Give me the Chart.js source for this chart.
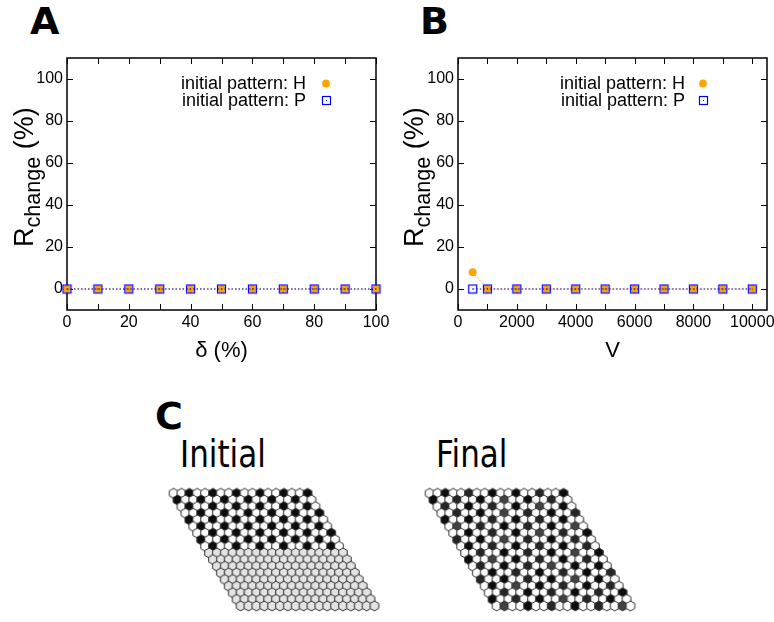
<!DOCTYPE html>
<html>
<head>
<meta charset="utf-8" />
<title>R_change vs delta and V, hexagonal patterns</title>
<script src="https://cdn.jsdelivr.net/npm/chart.js@4.4.1/dist/chart.umd.min.js"></script>
<style>
  html, body { margin: 0; padding: 0; background: #fff; }
  #page { position: relative; width: 774px; height: 622px; overflow: hidden; font-family: "DejaVu Sans", sans-serif; color: #000; }
  .panel { position: absolute; font-weight: bold; font-size: 38px; line-height: 1; }
  .cap { position: absolute; font-size: 31px; line-height: 1; transform: scaleY(1.2); transform-origin: 0 0; }
  canvas { position: absolute; }
</style>
</head>
<body>
<div id="page">
  <div class="panel" style="left:30px; top:2px;">A</div>
  <div class="panel" style="left:420px; top:2px;">B</div>
  <div class="panel" style="left:155px; top:397px;">C</div>
  <div class="cap" style="left:180px; top:436px;">Initial</div>
  <div class="cap" style="left:436px; top:436px;">Final</div>

  <canvas id="chartA" width="390" height="370" style="left:0; top:0;"></canvas>
  <canvas id="chartB" width="384" height="370" style="left:390px; top:0;"></canvas>
  <canvas id="gridInitial" width="230" height="140" style="left:160px; top:480px;"></canvas>
  <canvas id="gridFinal" width="230" height="140" style="left:416px; top:480px;"></canvas>
</div>

<script>
// ---- data: panel A (delta sweep) ----
const deltaVals = [0, 10, 20, 30, 40, 50, 60, 70, 80, 90, 100];
const rDeltaH   = [0, 0, 0, 0, 0, 0, 0, 0, 0, 0, 0];
const rDeltaP   = [0, 0, 0, 0, 0, 0, 0, 0, 0, 0, 0];
const deltaTickLabels = [0, 20, 40, 60, 80, 100];
const deltaTickMarks  = [0, 10, 20, 30, 40, 50, 60, 70, 80, 90, 100];

// ---- data: panel B (V sweep) ----
const vVals = [500, 1000, 2000, 3000, 4000, 5000, 6000, 7000, 8000, 9000, 10000];
const rVH   = [8, 0, 0, 0, 0, 0, 0, 0, 0, 0, 0];
const rVP   = [0, 0, 0, 0, 0, 0, 0, 0, 0, 0, 0];
const vTickLabels = [0, 2000, 4000, 6000, 8000, 10000];
const vTickMarks  = [0, 1000, 2000, 3000, 4000, 5000, 6000, 7000, 8000, 9000, 10000];

const rTickLabels = [0, 20, 40, 60, 80, 100];

// ---- data: panel C (cell states, W white, K black, D/M dark greys, G undetermined) ----
const initialCells = [
  "WWKWWKWWKWWKWWKWWK",
  "KWWKWWKWWKWWKWWKWW",
  "WKWWKWWKWWKWWKWWKW",
  "WWKWWKWWKWWKWWKWWK",
  "KWWKWWKWWKWWKWWKWW",
  "WKWWKWWKWWKWWKWWKW",
  "WWKWWKWWKWWKWWKWWK",
  "KWWKWWKWWKWWKWWKWW",
  "WKWWKWWKWWKWWKWWKW",
  "GGGGGGGGGGGGGGGGGG",
  "GGGGGGGGGGGGGGGGGG",
  "GGGGGGGGGGGGGGGGGG",
  "GGGGGGGGGGGGGGGGGG",
  "GGGGGGGGGGGGGGGGGG",
  "GGGGGGGGGGGGGGGGGG",
  "GGGGGGGGGGGGGGGGGG",
  "GGGGGGGGGGGGGGGGGG",
  "GGGGGGGGGGGGGGGGGG"
];
const finalCells = [
  "WWKWWDWWKWWKWWDWWK",
  "KWWDWWKWWMWWKWWDWW",
  "WDWWKWWDWWKWWMWWKW",
  "WWDWWKWWMWWDWWKWWD",
  "KWWKWWDWWKWWDWWKWW",
  "WMWWDWWKWWDWWKWWMW",
  "WWKWWDWWKWWMWWDWWK",
  "DWWKWWMWWDWWKWWDWW",
  "WKWWDWWKWWDWWKWWDW",
  "WWDWWKWWDWWKWWMWWK",
  "KWWMWWKWWDWWKWWDWW",
  "WDWWKWWDWWMWWKWWKW",
  "WWKWWDWWKWWDWWKWWD",
  "DWWKWWDWWKWWMWWKWW",
  "WKWWMWWKWWDWWKWWDW",
  "WWDWWKWWDWWKWWDWWK",
  "KWWDWWKWWMWWDWWKWW",
  "WMWWKWWDWWKWWDWWMW"
];
const cellColors = { W: "#ffffff", K: "#0d0d0d", D: "#262626", M: "#424242", G: "#e3e3e3" };

const ORANGE = "#ffa500";
const BLUE = "#0000ff";
const TICK_FONT = { family: "Liberation Sans", size: 16 };

// open square with a centre dot (gnuplot style point)
function makeSquare() {
  const c = document.createElement("canvas");
  c.width = 11; c.height = 11;
  const g = c.getContext("2d");
  g.strokeStyle = BLUE; g.lineWidth = 1.2;
  g.strokeRect(1.5, 1.5, 8, 8);
  g.fillStyle = BLUE;
  g.fillRect(5, 5, 1, 1);
  return c;
}
const squareImg = makeSquare();

const gnuPlugin = {
  id: "gnu",
  beforeDatasetsDraw(chart) {
    const o = chart.options.plugins.gnu;
    const { ctx, chartArea: a, scales: { x, y } } = chart;
    ctx.save();
    ctx.strokeStyle = "#000";
    ctx.lineWidth = 1;
    ctx.beginPath();
    o.xMarks.forEach(v => {
      const px = Math.round(x.getPixelForValue(v)) + 0.5;
      ctx.moveTo(px, a.bottom); ctx.lineTo(px, a.bottom - 6);
      ctx.moveTo(px, a.top); ctx.lineTo(px, a.top + 6);
    });
    o.yMarks.forEach(v => {
      const py = Math.round(y.getPixelForValue(v)) + 0.5;
      ctx.moveTo(a.left, py); ctx.lineTo(a.left + 6, py);
      ctx.moveTo(a.right, py); ctx.lineTo(a.right - 6, py);
    });
    ctx.stroke();
    ctx.lineWidth = 1.5;
    ctx.strokeRect(a.left, a.top, a.right - a.left, a.bottom - a.top);
    ctx.restore();
  },
  afterDraw(chart) {
    const o = chart.options.plugins.gnu;
    const { ctx, chartArea: a } = chart;
    ctx.save();
    ctx.fillStyle = "#000";
    // legend
    ctx.font = '18px "Liberation Sans"';
    ctx.textAlign = "right";
    ctx.textBaseline = "alphabetic";
    ctx.fillText("initial pattern: H", o.legendTextX, 89);
    ctx.fillText("initial pattern: P", o.legendTextX, 106);
    ctx.fillStyle = ORANGE;
    ctx.beginPath();
    ctx.arc(o.legendMarkX, 83.5, 3.9, 0, Math.PI * 2);
    ctx.fill();
    ctx.drawImage(squareImg, Math.round(o.legendMarkX - 5.5), Math.round(100.5 - 5.5));
    // x title
    ctx.fillStyle = "#000";
    ctx.textAlign = "center";
    ctx.font = '22px "Liberation Sans"';
    ctx.fillText(o.xTitle, (a.left + a.right) / 2, 357);
    // y title: R_change (%)
    ctx.translate(33, 247);
    ctx.rotate(-Math.PI / 2);
    ctx.textAlign = "left";
    ctx.font = '27px "Liberation Sans"';
    ctx.fillText("R", 0, 0);
    const wR = ctx.measureText("R").width;
    ctx.font = '21.6px "Liberation Sans"';
    ctx.fillText("change", wR, 7);
    const wS = ctx.measureText("change").width;
    ctx.font = '27px "Liberation Sans"';
    ctx.fillText(" (%)", wR + wS, 0);
    ctx.restore();
  }
};

function lineChart(id, xs, hVals, pVals, xMin, xMax, xLabels, xMarks, yAxisW, padRight, xTitle, legendTextX, legendMarkX) {
  const toPts = vals => xs.map((v, i) => ({ x: v, y: vals[i] }));
  return new Chart(document.getElementById(id), {
    type: "scatter",
    data: {
      datasets: [
        {
          label: "initial pattern: P",
          data: toPts(pVals),
          showLine: true,
          borderColor: BLUE,
          borderWidth: 1,
          borderDash: [1.5, 2],
          pointStyle: squareImg,
          pointRadius: 4,
          clip: false
        },
        {
          label: "initial pattern: H",
          data: toPts(hVals),
          showLine: true,
          borderColor: ORANGE,
          borderWidth: 1,
          borderDash: [1.5, 2],
          pointStyle: "circle",
          pointRadius: 3.9,
          pointBackgroundColor: ORANGE,
          pointBorderWidth: 0,
          clip: false
        }
      ]
    },
    options: {
      responsive: false,
      animation: false,
      events: [],
      layout: { padding: { left: 0, top: 58, right: padRight, bottom: 0 } },
      plugins: {
        legend: { display: false },
        tooltip: { enabled: false },
        gnu: { xMarks: xMarks, yMarks: rTickLabels, xTitle: xTitle, legendTextX: legendTextX, legendMarkX: legendMarkX }
      },
      scales: {
        x: {
          type: "linear", min: xMin, max: xMax,
          grid: { display: false, drawTicks: false },
          border: { display: false },
          ticks: { padding: 3, font: TICK_FONT, color: "#000", autoSkip: false, maxRotation: 0, callback: v => String(v) },
          afterBuildTicks: s => { s.ticks = xLabels.map(v => ({ value: v })); },
          afterFit: s => { s.height = 60; s.paddingLeft = 0; s.paddingRight = 0; }
        },
        y: {
          type: "linear", min: -10, max: 110,
          grid: { display: false, drawTicks: false },
          border: { display: false },
          ticks: { padding: 4, font: TICK_FONT, color: "#000", autoSkip: false, callback: v => String(v) },
          afterBuildTicks: s => { s.ticks = rTickLabels.map(v => ({ value: v })); },
          afterFit: s => { s.width = yAxisW; s.paddingTop = 0; s.paddingBottom = 0; }
        }
      }
    },
    plugins: [gnuPlugin]
  });
}

lineChart("chartA", deltaVals, rDeltaH, rDeltaP, 0, 100, deltaTickLabels, deltaTickMarks, 67, 14, "\u03b4 (%)", 306, 326);
lineChart("chartB", vVals, rVH, rVP, 0, 10500, vTickLabels, vTickMarks, 68, 7, "V", 295, 313);

// ---- hexagonal lattices ----
const CELL_PX = 8.235;
const HEX_R = CELL_PX / Math.sqrt(3) + 0.2;
function makeHex(fill) {
  const c = document.createElement("canvas");
  c.width = 12; c.height = 12;
  const g = c.getContext("2d");
  g.beginPath();
  for (let k = 0; k < 6; k++) {
    const ang = (-90 + 60 * k) * Math.PI / 180;
    const px = 6 + HEX_R * Math.cos(ang), py = 6 + HEX_R * Math.sin(ang);
    if (k === 0) g.moveTo(px, py); else g.lineTo(px, py);
  }
  g.closePath();
  g.fillStyle = fill;
  g.fill();
  g.strokeStyle = "#333";
  g.lineWidth = 1;
  g.stroke();
  return c;
}
const hexImgs = {};
Object.keys(cellColors).forEach(k => { hexImgs[k] = makeHex(cellColors[k]); });

function hexChart(id, rows) {
  const pts = [], codes = [];
  rows.forEach((row, r) => {
    row.split("").forEach((ch, c) => {
      pts.push({ x: c + r / 2, y: r * Math.sqrt(3) / 2 });
      codes.push(ch);
    });
  });
  const cv = document.getElementById(id);
  const off = 9 / CELL_PX;
  return new Chart(cv, {
    type: "scatter",
    data: { datasets: [{ data: pts, pointStyle: ctx => hexImgs[codes[ctx.dataIndex]], pointRadius: 4, clip: false }] },
    options: {
      responsive: false,
      animation: false,
      events: [],
      layout: { padding: 0 },
      plugins: { legend: { display: false }, tooltip: { enabled: false } },
      scales: {
        x: { display: false, min: -off, max: -off + cv.width / CELL_PX },
        y: { display: false, reverse: true, min: -off, max: -off + cv.height / CELL_PX }
      }
    }
  });
}
hexChart("gridInitial", initialCells);
hexChart("gridFinal", finalCells);
</script>
</body>
</html>
